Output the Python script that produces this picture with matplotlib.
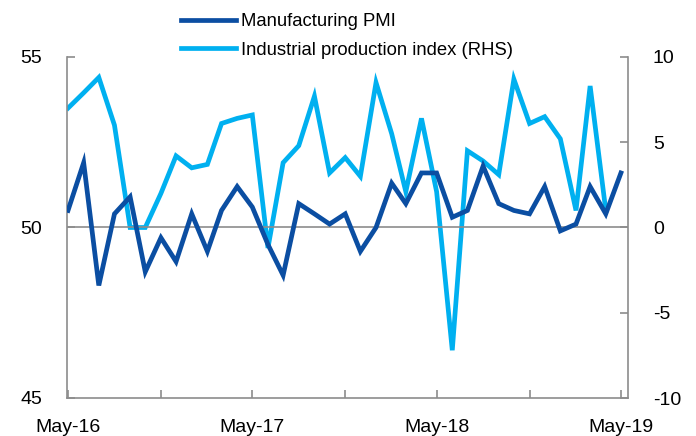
import numpy as np
import pandas as pd
import matplotlib
matplotlib.use('Agg')
import matplotlib.pyplot as plt
import matplotlib.dates as mdates

plt.rcParams['font.family'] = ['Liberation Sans', 'DejaVu Sans']
plt.rcParams['axes.unicode_minus'] = False

dates = pd.date_range('2016-05-01', '2019-05-01', freq='MS')

# Manufacturing PMI (LHS), May-16 .. May-19
pmi = [50.5, 51.9, 48.3, 50.4, 50.9, 48.7, 49.7, 49.0, 50.4, 49.3,
       50.5, 51.2, 50.6, 49.5, 48.6, 50.7, 50.4, 50.1, 50.4, 49.3,
       50.0, 51.3, 50.7, 51.6, 51.6, 50.3, 50.5, 51.8, 50.7, 50.5,
       50.4, 51.2, 49.9, 50.1, 51.2, 50.4, 51.6]

# Industrial production index (RHS), May-16 .. Apr-19
ip = [7.0, 7.9, 8.8, 6.0, 0.0, 0.0, 2.0, 4.2, 3.5, 3.7,
      6.1, 6.4, 6.6, -1.2, 3.8, 4.8, 7.7, 3.2, 4.1, 3.0,
      8.5, 5.5, 2.1, 6.4, 2.1, -7.2, 4.5, 3.9, 3.1, 8.7,
      6.1, 6.5, 5.2, 1.0, 8.3, 1.0]

dark = '#0B4EA2'
light = '#00B0F0'
grey = '#8C8C8C'

fig = plt.figure(figsize=(6.96, 4.36), dpi=100)
ax = fig.add_axes([67/696, 38/436, (628-67)/696, (398-57)/436])
ax2 = ax.twinx()

l1, = ax.plot(dates, pmi, color=dark, lw=3.4, solid_joinstyle='miter', zorder=3)
l2, = ax2.plot(dates[:len(ip)], ip, color=light, lw=3.4, solid_joinstyle='miter', zorder=2)
ax.set_zorder(ax2.get_zorder() + 1)
ax.patch.set_visible(False)

ax.axhline(50, color=grey, lw=1.2, zorder=1)

ax.set_ylim(45, 55)
ax.set_yticks([45, 50, 55])
ax2.set_ylim(-10, 10)
ax2.set_yticks([-10, -5, 0, 5, 10])
ax.set_xlim(pd.Timestamp('2016-04-29'), pd.Timestamp('2019-05-15'))

ax.xaxis.set_major_locator(mdates.MonthLocator(bymonth=5))
ax.xaxis.set_major_formatter(mdates.DateFormatter('%b-%y'))
ax.xaxis.set_minor_locator(mdates.MonthLocator(bymonth=11))

for a in (ax, ax2):
    a.spines['top'].set_visible(False)
    for s in a.spines.values():
        s.set_color(grey)
        s.set_linewidth(1.2)
    a.tick_params(axis='both', which='both', direction='in', color=grey,
                  width=1.2, length=6, labelsize=14, pad=18)
ax.tick_params(axis='x', which='both', pad=15)
ax2.spines['left'].set_visible(False)
ax2.spines['bottom'].set_visible(False)
ax.spines['right'].set_visible(False)

fig.legend([l1, l2], ['Manufacturing PMI', 'Industrial production index (RHS)'],
           loc='upper left', bbox_to_anchor=(181/696, 0.97), frameon=False,
           fontsize=13.3, handlelength=3.0, handletextpad=0.25, labelspacing=0.62,
           borderpad=0, borderaxespad=0)

fig.savefig('out.png', dpi=100)
